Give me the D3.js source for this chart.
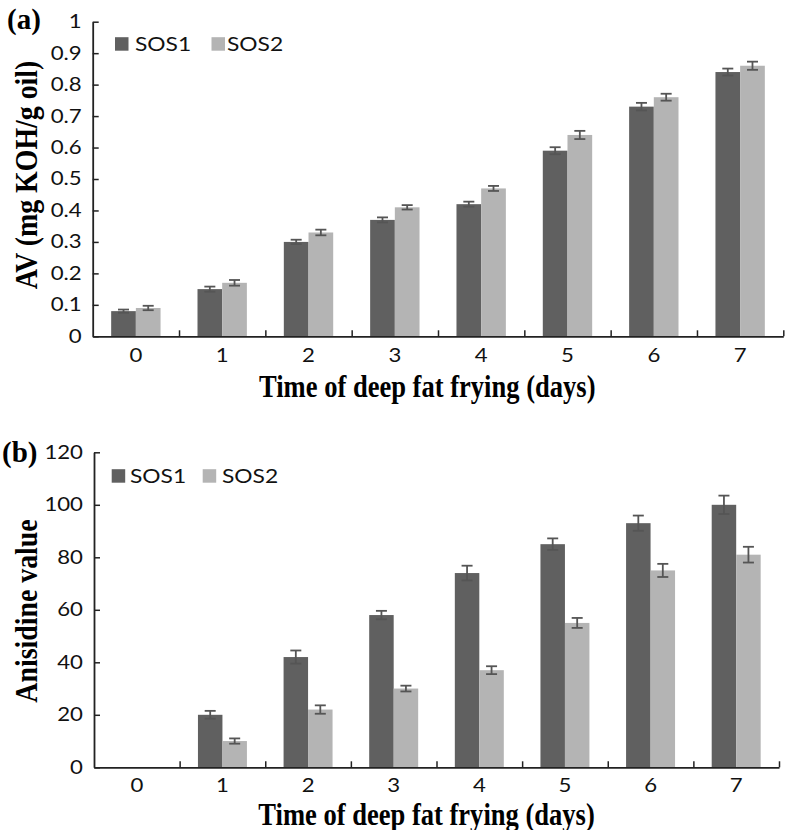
<!DOCTYPE html>
<html><head><meta charset="utf-8">
<script src="https://cdn.jsdelivr.net/npm/d3@7"></script>
<style>body{margin:0;background:#fff}</style>
</head><body><svg id="c" width="786" height="830"></svg>
<script>
const days = ["0","1","2","3","4","5","6","7"];
const seriesNames = ["SOS1","SOS2"];
const avSOS1 = [0.08,0.15,0.30,0.37,0.42,0.59,0.73,0.84];
const avSOS2 = [0.09,0.17,0.33,0.41,0.47,0.64,0.76,0.86];
const avErr1 = [0.005,0.008,0.007,0.008,0.008,0.011,0.012,0.011];
const avErr2 = [0.007,0.009,0.009,0.007,0.008,0.013,0.011,0.013];
const anSOS1 = [0,20,42,58,74,85,93,100];
const anSOS2 = [0,10,22,30,37,55,75,81];
const anErr1 = [0,1.5,2.5,1.6,2.8,2.2,2.9,3.5];
const anErr2 = [0,1.0,1.6,1.1,1.5,1.9,2.5,3.0];
const avTicks = [0,0.1,0.2,0.3,0.4,0.5,0.6,0.7,0.8,0.9,1];
const anTicks = [0,20,40,60,80,100,120];
const avTitle = "AV (mg KOH/g oil)";
const anTitle = "Anisidine value";
const xTitle = "Time of deep fat frying (days)";
const colors = ["#606060","#b4b4b4"];

const svg = d3.select("#c");
svg.append("rect").attr("width",786).attr("height",830).attr("fill","#fff");

const SANS = "Lato, 'Open Sans', sans-serif";
const SERIF = "'Liberation Serif', 'Times New Roman', serif";

function stretchTexts(sel, sx){
  sel.each(function(){
    const t = d3.select(this);
    const x = +t.attr("x") || 0;
    const y = +t.attr("y") || 0;
    t.attr("x",0).attr("y",0).attr("transform",`translate(${x},${y}) scale(${sx},1)`);
  });
}

function drawPanel(cfg){
  const g = svg.append("g");
  const y = d3.scaleLinear().domain(cfg.domain).range([cfg.y0, cfg.y1]);
  const xb = d3.scaleBand().domain(days).range([cfg.x0, cfg.x1]).padding(0);
  const xl = d3.scaleLinear().domain([0, days.length]).range([cfg.x0, cfg.x1]);
  const bw = xb.bandwidth()*0.286;

  const series = [cfg.s1, cfg.s2];
  const errs = [cfg.e1, cfg.e2];
  series.forEach((vals, si) => {
    g.append("g").selectAll("rect").data(vals).join("rect")
      .attr("x",(d,i)=> xb(days[i]) + xb.bandwidth()/2 + (si===0 ? -bw : 0))
      .attr("width", bw)
      .attr("y", d => y(d))
      .attr("height", d => y(0) - y(d))
      .attr("fill", colors[si]);
  });
  series.forEach((vals, si) => {
    const eg = g.append("g").attr("stroke","#555").attr("stroke-width",1.8).attr("fill","none");
    vals.forEach((v,i) => {
      if (v === 0) return;
      const cx = xb(days[i]) + xb.bandwidth()/2 + (si===0 ? -bw/2 : bw/2);
      const e = errs[si][i];
      eg.append("line").attr("x1",cx).attr("x2",cx).attr("y1",y(v+e)).attr("y2",y(v-e));
      eg.append("line").attr("x1",cx-5.5).attr("x2",cx+5.5).attr("y1",y(v+e)).attr("y2",y(v+e));
      eg.append("line").attr("x1",cx-5.5).attr("x2",cx+5.5).attr("y1",y(v-e)).attr("y2",y(v-e));
    });
  });

  const ya = g.append("g").attr("transform",`translate(${cfg.x0},0)`)
    .call(d3.axisLeft(y).tickValues(cfg.ticks).tickSize(-6).tickSizeOuter(0).tickPadding(11)
      .tickFormat(d => String(d)));
  ya.select(".domain").attr("stroke","#222").attr("stroke-width",1.8);
  ya.selectAll(".tick line").attr("stroke","#222").attr("stroke-width",1.5);
  ya.selectAll(".tick text").attr("font-family",SANS).attr("font-size",18.5).attr("fill","#111");
  stretchTexts(ya.selectAll(".tick text"), 1.2);

  const xa = g.append("g").attr("transform",`translate(0,${cfg.y0})`)
    .call(d3.axisBottom(xl).tickValues(d3.range(1, days.length+1)).tickSize(-6).tickSizeOuter(0).tickFormat(""));
  xa.select(".domain").attr("stroke","#222").attr("stroke-width",1.8);
  xa.selectAll(".tick line").attr("stroke","#222").attr("stroke-width",1.5);
  const xa2 = g.append("g").attr("transform",`translate(0,${cfg.y0})`)
    .call(d3.axisBottom(xb).tickSize(0));
  xa2.select(".domain").remove();
  xa2.selectAll(".tick text").attr("font-family",SANS).attr("font-size",18.5).attr("fill","#111")
    .attr("y", cfg.labelOff).attr("dy",0);
  stretchTexts(xa2.selectAll(".tick text"), 1.2);

  seriesNames.forEach((n, si) => {
    const L = cfg.legend[si];
    g.append("rect").attr("x",L.sx).attr("y",L.sy).attr("width",13.5).attr("height",13.5).attr("fill",colors[si]);
    g.append("text").attr("transform",`translate(${L.tx},${L.sy+13.5}) scale(1.2,1)`)
      .attr("font-family",SANS).attr("font-size",19).attr("fill","#111").text(n);
  });

  g.append("text").attr("x",cfg.letter.x).attr("y",cfg.letter.y)
    .attr("font-family",SERIF).attr("font-weight","bold").attr("font-size",29).attr("fill","#000")
    .text(cfg.letter.t);

  g.append("text").attr("transform",`translate(37,${cfg.yTitleY}) rotate(-90) scale(0.87,1)`)
    .attr("text-anchor","middle").attr("font-family",SERIF).attr("font-weight","bold")
    .attr("font-size",32).attr("fill","#000").text(cfg.yTitle);
  g.append("text").attr("transform",`translate(${cfg.xTitleX},${cfg.xTitleY}) scale(0.83,1)`)
    .attr("font-family",SERIF).attr("font-weight","bold")
    .attr("font-size",32).attr("fill","#000").text(xTitle);
}

drawPanel({
  domain:[0,1], y0:336.3, y1:21.7, x0:92.7, x1:783.3, ticks:avTicks,
  s1:avSOS1, s2:avSOS2, e1:avErr1, e2:avErr2, labelOff:25.5,
  legend:[{sx:115,sy:37.2,tx:135},{sx:211.5,sy:37.2,tx:227}],
  letter:{x:7,y:29,t:"(a)"}, yTitle:avTitle, yTitleY:175,
  xTitleX:259, xTitleY:396.5
});
drawPanel({
  domain:[0,120], y0:767.3, y1:452.3, x0:94, x1:779, ticks:anTicks,
  s1:anSOS1, s2:anSOS2, e1:anErr1, e2:anErr2, labelOff:24.4,
  legend:[{sx:111.7,sy:469.2,tx:130},{sx:202.7,sy:469.2,tx:222}],
  letter:{x:2,y:462,t:"(b)"}, yTitle:anTitle, yTitleY:611,
  xTitleX:258.3, xTitleY:825
});
</script></body></html>
